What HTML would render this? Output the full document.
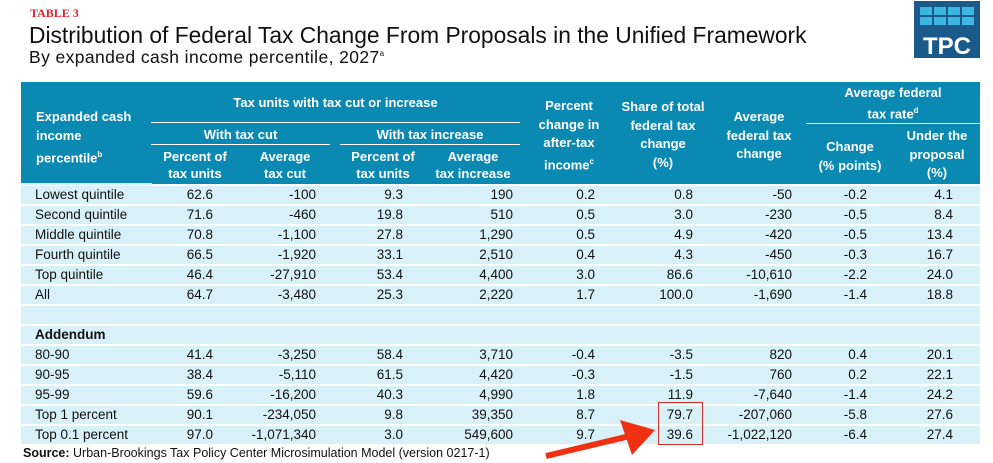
<!DOCTYPE html>
<html><head><meta charset="utf-8">
<style>
body{margin:0;width:993px;height:463px;background:#fff;position:relative;overflow:hidden;font-family:"Liberation Sans",sans-serif;}
.a{position:absolute;white-space:nowrap;}
.hd{color:#fff;font-weight:bold;font-size:13px;text-align:center;line-height:17px;}
.row{position:absolute;left:21px;width:959px;background:#d8f1f9;}
.c{position:absolute;font-size:13.5px;color:#111;text-align:right;}
</style></head><body>
<div class="a" style="left:30px;top:6px;color:#e0202a;font:bold 12px 'Liberation Serif',serif;">TABLE 3</div>
<div class="a" style="left:29px;top:22px;font-size:22.8px;color:#111;">Distribution of Federal Tax Change From Proposals in the Unified Framework</div>
<div class="a" style="left:29px;top:47px;font-size:17.5px;letter-spacing:0.4px;color:#111;">By expanded cash income percentile, 2027<sup style="font-size:8px">a</sup></div>
<div class="a" style="left:914px;top:1px;width:66px;height:57px;background:#1a5a8a;">
<svg width="66" height="57" style="position:absolute;left:0;top:0">
<g fill="#3cb6e0">
<rect x="6" y="6" width="12" height="8"/><rect x="20" y="6" width="12" height="8"/><rect x="34" y="6" width="12" height="8"/><rect x="48" y="6" width="12" height="8"/>
<rect x="6" y="16" width="12" height="8"/><rect x="20" y="16" width="12" height="8"/><rect x="34" y="16" width="12" height="8"/><rect x="48" y="16" width="12" height="8"/>
</g>
<text x="33" y="53" text-anchor="middle" fill="#fff" font-family="Liberation Sans" font-weight="bold" font-size="24">TPC</text>
</svg></div>

<div class="a" style="left:21px;top:82px;width:959px;height:102px;background:#0a8ab2;"></div>
<div class="a" style="left:151px;top:122px;width:369px;height:1px;background:#fff"></div>
<div class="a" style="left:151px;top:144px;width:179px;height:1px;background:#fff"></div>
<div class="a" style="left:340px;top:144px;width:180px;height:1px;background:#fff"></div>
<div class="a" style="left:806px;top:123px;width:174px;height:1px;background:#fff"></div>
<div class="a" style="left:21px;top:183px;width:131px;height:2px;background:#d8f1f9"></div>
<div class="a hd" style="left:36px;top:107px;text-align:left;line-height:19px">Expanded cash<br>income<br>percentile<sup style="font-size:8px">b</sup></div>
<div class="a hd" style="left:151px;top:94px;width:369px">Tax units with tax cut or increase</div>
<div class="a hd" style="left:151px;top:126px;width:179px">With tax cut</div>
<div class="a hd" style="left:340px;top:126px;width:180px">With tax increase</div>
<div class="a hd" style="left:152px;top:148px;width:86px">Percent of<br>tax units</div>
<div class="a hd" style="left:240px;top:148px;width:90px">Average<br>tax cut</div>
<div class="a hd" style="left:340px;top:148px;width:86px">Percent of<br>tax units</div>
<div class="a hd" style="left:426px;top:148px;width:94px">Average<br>tax increase</div>
<div class="a hd" style="left:520px;top:97px;width:98px;line-height:18.5px">Percent<br>change in<br>after-tax<br>income<sup style="font-size:8px">c</sup></div>
<div class="a hd" style="left:615px;top:98px;width:96px;line-height:18.5px">Share of total<br>federal tax<br>change<br>(%)</div>
<div class="a hd" style="left:711px;top:108px;width:96px;line-height:18.5px">Average<br>federal tax<br>change</div>
<div class="a hd" style="left:806px;top:84px;width:174px;line-height:18px">Average federal<br>tax rate<sup style="font-size:8px">d</sup></div>
<div class="a hd" style="left:806px;top:138px;width:88px;line-height:18.5px">Change<br>(% points)</div>
<div class="a hd" style="left:894px;top:127px;width:86px;line-height:18.5px">Under the<br>proposal<br>(%)</div>

<div id="body"></div>

<div class="a" style="left:23px;top:446px;font-size:12.5px;color:#111;"><b>Source:</b> Urban-Brookings Tax Policy Center Microsimulation Model (version 0217-1)</div>
<div class="a" style="left:658px;top:402px;width:45px;height:43px;border:1.5px solid #d0302a;box-sizing:border-box;"></div>
<svg class="a" style="left:0;top:0" width="993" height="463">
<line x1="546" y1="456" x2="630" y2="436" stroke="#f03010" stroke-width="6"/>
<polygon points="655,430 620,420 632,455" fill="#f03010"/>
</svg>

<script>
const labels=["Lowest quintile","Second quintile","Middle quintile","Fourth quintile","Top quintile","All","","Addendum","80-90","90-95","95-99","Top 1 percent","Top 0.1 percent"];
const pctCut=["62.6","71.6","70.8","66.5","46.4","64.7","","","41.4","38.4","59.6","90.1","97.0"];
const avgCut=["-100","-460","-1,100","-1,920","-27,910","-3,480","","","-3,250","-5,110","-16,200","-234,050","-1,071,340"];
const pctInc=["9.3","19.8","27.8","33.1","53.4","25.3","","","58.4","61.5","40.3","9.8","3.0"];
const avgInc=["190","510","1,290","2,510","4,400","2,220","","","3,710","4,420","4,990","39,350","549,600"];
const pctChange=["0.2","0.5","0.5","0.4","3.0","1.7","","","-0.4","-0.3","1.8","8.7","9.7"];
const share=["0.8","3.0","4.9","4.3","86.6","100.0","","","-3.5","-1.5","11.9","79.7","39.6"];
const avgFed=["-50","-230","-420","-450","-10,610","-1,690","","","820","760","-7,640","-207,060","-1,022,120"];
const rateChange=["-0.2","-0.5","-0.5","-0.3","-2.2","-1.4","","","0.4","0.2","-1.4","-5.8","-6.4"];
const rateUnder=["4.1","8.4","13.4","16.7","24.0","18.8","","","20.1","22.1","24.2","27.6","27.4"];
const cols=[pctCut,avgCut,pctInc,avgInc,pctChange,share,avgFed,rateChange,rateUnder];
const rights=[213,316,403,513,595,693,792,867,953];
const names=["pct-cut","avg-cut","pct-inc","avg-inc","pct-change","share","avg-fed","rate-change","rate-under"];
const body=document.getElementById('body');
const top0=186, rh=20;
labels.forEach((lab,i)=>{
  const r=document.createElement('div');
  r.className='row';
  
  
  r.style.top=(top0+i*rh)+'px';
  r.style.height=(rh-2)+'px';
  body.appendChild(r);
  const l=document.createElement('div');
  l.className='a';
  
  
  l.style.left='35px';l.style.top=(top0+i*rh+1)+'px';
  l.style.fontSize='13.5px';l.style.color='#111';
  if(lab==='Addendum')l.style.fontWeight='bold';
  l.textContent=lab;
  body.appendChild(l);
  cols.forEach((arr,j)=>{
    if(!arr[i])return;
    const c=document.createElement('div');
    c.className='c';
    
    
    c.style.right=(993-rights[j])+'px';
    c.style.top=(top0+i*rh+1)+'px';
    c.textContent=arr[i];
    body.appendChild(c);
  });
});
</script>
</body></html>
